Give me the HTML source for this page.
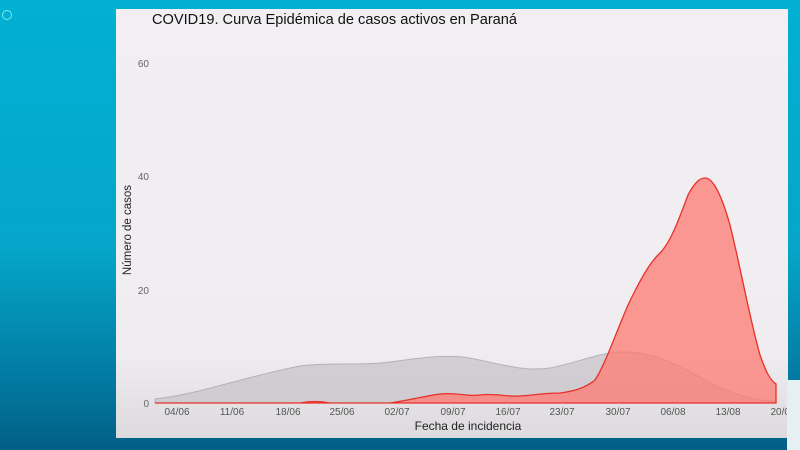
<!DOCTYPE html>
<html><head><style>
body{margin:0;width:800px;height:450px;overflow:hidden;background:linear-gradient(180deg,#02b0d4 0%,#05a6c9 55%,#0279a0 85%,#025f85 100%);font-family:"Liberation Sans",sans-serif;position:relative}
</style></head><body>
<div style="position:absolute;left:2px;top:10px;width:8px;height:8px;border:1.5px solid #7ee;border-radius:50%"></div>
<svg width="800" height="450" style="position:absolute;left:0;top:0">
<defs><linearGradient id="pg" x1="0" y1="0" x2="0" y2="1"><stop offset="0" stop-color="#f1eff2"/><stop offset="0.8" stop-color="#efedf0"/><stop offset="1" stop-color="#dcdadd"/></linearGradient></defs>
<rect x="116" y="9" width="672" height="429" fill="url(#pg)"/>
<text x="152" y="24" font-size="14.6" fill="#111">COVID19. Curva Epidémica de casos activos en Paraná</text>
<g font-size="10" fill="#666" text-anchor="end">
<text x="149" y="67">60</text><text x="149" y="180">40</text><text x="149" y="294">20</text><text x="149" y="407">0</text></g>
<text transform="translate(131,230) rotate(-90)" font-size="11.5" fill="#222" text-anchor="middle">Número de casos</text>
<path d="M155,399 C200,394 240,378 300,366 C330,362 360,366 390,362 C420,358 445,354 470,358 C500,364 525,372 550,368 C580,362 600,352 625,352 C660,352 690,372 720,388 C745,398 760,401 775,401 L775,403 L155,403 Z" fill="#c8c4c9" fill-opacity="0.75" stroke="#b5b1b6" stroke-width="1"/>
<path d="M155,403 L300,403 C310,401 320,401 330,403 L390,403 C410,400 425,396 440,394 C455,392 470,397 480,395 C495,393 505,397 520,396 C535,395 545,393 560,393 C575,391 585,388 595,380 C605,365 615,335 628,305 C640,280 650,262 660,253 C670,243 678,222 688,195 C695,182 700,178 705,178 C712,178 720,190 730,225 C740,265 750,320 760,355 C766,372 770,380 776,384 L776,403 Z" fill="#ff7a72" fill-opacity="0.75" stroke="#e8302a" stroke-width="1.3"/>
<g font-size="10" fill="#555" text-anchor="middle">
<text x="177" y="415">04/06</text><text x="232" y="415">11/06</text><text x="288" y="415">18/06</text><text x="342" y="415">25/06</text><text x="397" y="415">02/07</text><text x="453" y="415">09/07</text><text x="508" y="415">16/07</text><text x="562" y="415">23/07</text><text x="618" y="415">30/07</text><text x="673" y="415">06/08</text><text x="728" y="415">13/08</text><text x="783" y="415">20/08</text></g>
<text x="468" y="430" font-size="12" fill="#222" text-anchor="middle">Fecha de incidencia</text>
</svg>
<div style="position:absolute;left:787px;top:380px;width:13px;height:70px;background:#e6f0f2"></div>
</body></html>
